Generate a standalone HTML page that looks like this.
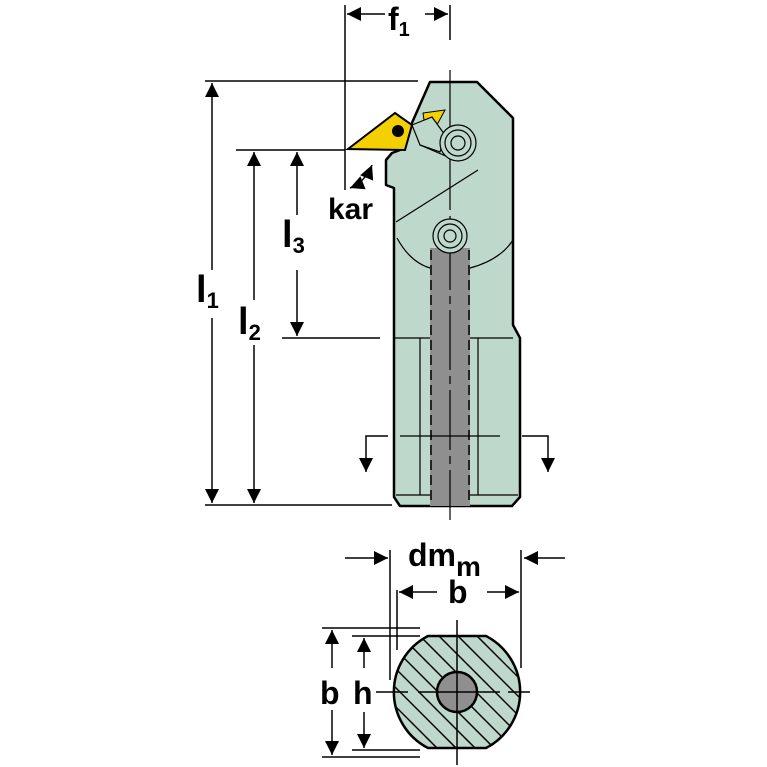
<html style="overflow:hidden"><body style="margin:0;background:#fff;overflow:hidden;width:767px;height:767px">
<svg width="767" height="767" viewBox="0 0 767 767" xmlns="http://www.w3.org/2000/svg" font-family="Liberation Sans, sans-serif" font-weight="bold" style="display:block">
<defs>
<marker id="a" viewBox="0 0 10 10" refX="10" refY="5" markerWidth="20" markerHeight="14" markerUnits="userSpaceOnUse" orient="auto-start-reverse"><path d="M0,0L10,5L0,10z" fill="#000"/></marker>
<clipPath id="cc"><path d="M428,636 L486,636 A63,63 0 0 1 486,748 L428,748 A63,63 0 0 1 428,636Z"/></clipPath>
</defs>
<g stroke="#000" stroke-width="1.5" fill="none">
<line x1="205" y1="81" x2="418" y2="81"/>
<line x1="205" y1="505" x2="392" y2="505"/>
<line x1="236" y1="150" x2="345" y2="150"/>
<line x1="282" y1="338" x2="380" y2="338"/>
<line x1="345" y1="5" x2="345" y2="190"/>
<line x1="450" y1="5" x2="450" y2="40"/>
<line x1="212" y1="83" x2="212" y2="270" marker-start="url(#a)"/>
<line x1="212" y1="318" x2="212" y2="503" marker-end="url(#a)"/>
<line x1="254" y1="152" x2="254" y2="300" marker-start="url(#a)"/>
<line x1="254" y1="345" x2="254" y2="503" marker-end="url(#a)"/>
<line x1="297" y1="152" x2="297" y2="215" marker-start="url(#a)"/>
<line x1="297" y1="270" x2="297" y2="336" marker-end="url(#a)"/>
<line x1="347" y1="14" x2="385" y2="14" marker-start="url(#a)"/>
<line x1="425" y1="14" x2="448" y2="14" marker-end="url(#a)"/>
<path d="M350,188 Q365,182 372,165" marker-start="url(#a)" marker-end="url(#a)"/>
</g>
<g stroke="#000" stroke-width="2.5" fill="#bfd8cc" stroke-linejoin="round">
<path d="M430,82 L477,82 L513,118 L513,325 L520,338 L520,497 L512,506 L400,506 L394,497 L394,188 L386,185 L386,160 L392,153 L400,150 L430,82Z"/>
</g>
<g stroke="#000" stroke-width="1.2" fill="none">
<line x1="394" y1="338" x2="513" y2="338"/>
<line x1="420" y1="338" x2="420" y2="495"/>
<line x1="478" y1="338" x2="478" y2="495"/>
<line x1="396" y1="222" x2="478" y2="170"/>
<path d="M397,238 Q410,262 430,268 L470,268 Q500,260 513,240"/>
<line x1="396" y1="495" x2="518" y2="495"/>
</g>
<rect x="430" y="248" width="40" height="258" fill="#8f8f8f"/>
<g stroke="#000" stroke-width="1.5" stroke-dasharray="10,5"><line x1="431" y1="250" x2="431" y2="500"/><line x1="469" y1="250" x2="469" y2="500"/></g>
<line x1="450" y1="70" x2="450" y2="520" stroke="#000" stroke-width="1.2" stroke-dasharray="60,6,8,6"/>
<line x1="400" y1="436" x2="500" y2="436" stroke="#000" stroke-width="1.2"/>
<g stroke="#000" stroke-width="1.5" fill="none">
<path d="M388,436 L366,436 L366,472" marker-end="url(#a)"/>
<path d="M522,436 L548,436 L548,472" marker-end="url(#a)"/>
</g>
<path d="M423,113 L445,110 L438,123 L425,127Z" fill="#f5d000" stroke="#000" stroke-width="1"/>
<path d="M412,125 L432,117 L445,135 L440,152 L420,145Z" fill="#bfd8cc" stroke="#000" stroke-width="1.2"/>
<path d="M420,145 L455,160" stroke="#000" stroke-width="1.2"/>
<path d="M348,149 L395,113 L412,125 L405,150 Z" fill="#f5d000" stroke="#000" stroke-width="2"/>
<circle cx="398" cy="131" r="6" fill="#000"/>
<g fill="#bfd8cc" stroke="#000" stroke-width="1.2">
<circle cx="458" cy="143" r="18"/><circle cx="458" cy="143" r="13"/><circle cx="458" cy="143" r="7"/>
<circle cx="450" cy="236" r="17"/><circle cx="450" cy="236" r="12"/><circle cx="450" cy="236" r="6"/>
</g>
<text x="388" y="30" font-size="32">f<tspan font-size="20" dy="6">1</tspan></text>
<text x="196" y="302" font-size="38">l<tspan font-size="22" dy="6">1</tspan></text>
<text x="238" y="334" font-size="38">l<tspan font-size="22" dy="6">2</tspan></text>
<text x="282" y="247" font-size="38">l<tspan font-size="22" dy="6">3</tspan></text>
<text x="328" y="219" font-size="30">kar</text>
<g stroke="#000" stroke-width="1.5" fill="none">
<line x1="345" y1="558" x2="388" y2="558" marker-end="url(#a)"/>
<line x1="565" y1="558" x2="524" y2="558" marker-end="url(#a)"/>
<line x1="390" y1="550" x2="390" y2="680"/>
<line x1="521" y1="550" x2="521" y2="668"/>
<line x1="397" y1="590" x2="397" y2="650"/>
<line x1="437" y1="592" x2="399" y2="592" marker-end="url(#a)"/>
<line x1="487" y1="592" x2="519" y2="592" marker-end="url(#a)"/>
<line x1="322" y1="628" x2="420" y2="628"/>
<line x1="322" y1="757" x2="420" y2="757"/>
<line x1="352" y1="636" x2="420" y2="636"/>
<line x1="352" y1="750" x2="420" y2="750"/>
<line x1="332" y1="630" x2="332" y2="668" marker-start="url(#a)"/>
<line x1="332" y1="710" x2="332" y2="755" marker-end="url(#a)"/>
<line x1="364" y1="638" x2="364" y2="668" marker-start="url(#a)"/>
<line x1="364" y1="712" x2="364" y2="748" marker-end="url(#a)"/>
</g>
<path d="M428,636 L486,636 A63,63 0 0 1 486,748 L428,748 A63,63 0 0 1 428,636Z" fill="#bfd8cc" stroke="#000" stroke-width="2.5"/>
<g clip-path="url(#cc)" stroke="#000" stroke-width="1.5">
<line x1="350" y1="680" x2="560" y2="890"/><line x1="350" y1="661" x2="560" y2="871"/><line x1="350" y1="642" x2="560" y2="852"/><line x1="350" y1="623" x2="560" y2="833"/><line x1="350" y1="604" x2="560" y2="814"/><line x1="350" y1="585" x2="560" y2="795"/><line x1="350" y1="566" x2="560" y2="776"/><line x1="350" y1="547" x2="560" y2="757"/><line x1="350" y1="528" x2="560" y2="738"/><line x1="350" y1="509" x2="560" y2="719"/><line x1="350" y1="490" x2="560" y2="700"/>
</g>
<circle cx="457" cy="692" r="20" fill="#8f8f8f" stroke="#000" stroke-width="2.5"/>
<g stroke="#000" stroke-width="1.5"><line x1="376" y1="692" x2="408" y2="692"/><line x1="418" y1="692" x2="500" y2="692"/><line x1="508" y1="692" x2="530" y2="692"/><line x1="457" y1="620" x2="457" y2="765"/></g>
<text x="408" y="566" font-size="32">dm<tspan font-size="28" dy="10">m</tspan></text>
<text x="448" y="603" font-size="32">b</text>
<text x="320" y="704" font-size="32">b</text>
<text x="353" y="704" font-size="32">h</text>
</svg>
</body></html>
